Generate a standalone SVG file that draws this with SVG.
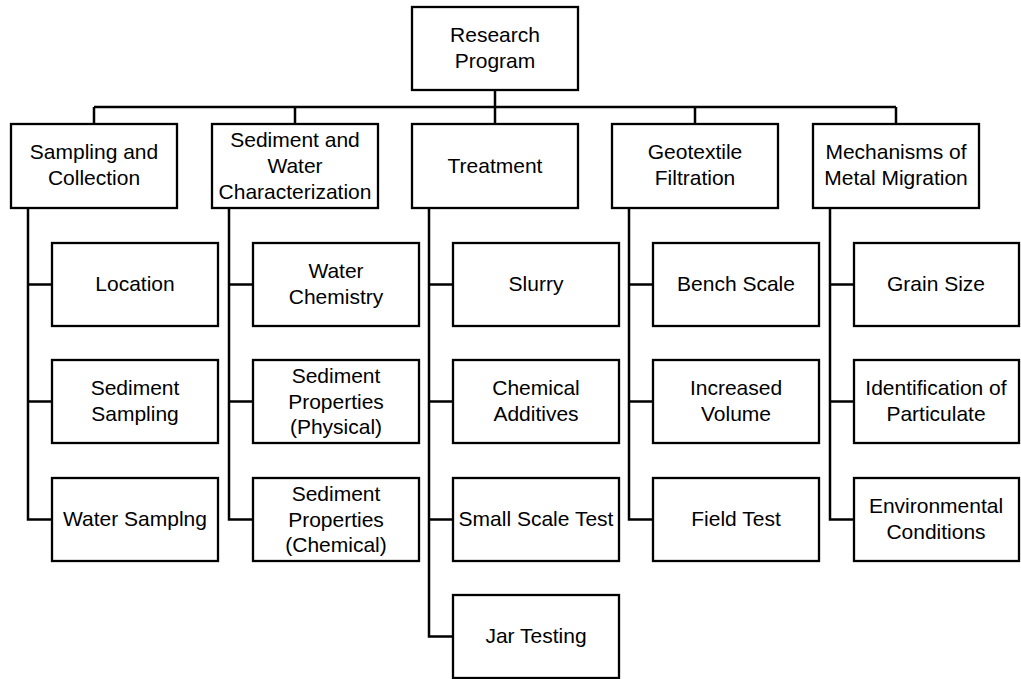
<svg xmlns="http://www.w3.org/2000/svg" width="1021" height="679" viewBox="0 0 1021 679">
<style>
.box{fill:#fff;stroke:#000;stroke-width:2.3}
.ln{fill:none;stroke:#000;stroke-width:2.5}
text{font-family:"Liberation Sans",Arial,sans-serif;font-size:21px;fill:#000;text-anchor:middle}
</style>
<rect width="1021" height="679" fill="#fff"/>
<g id="connectors">
<path class="ln" d="M495,90V123M94,107H896M94,107V123M295,107V123M695,107V123M896,107V123"/>
<path class="ln" d="M28,208V519.5H52M28,284.5H52M28,401.5H52"/>
<path class="ln" d="M229,208V519.5H253M229,284.5H253M229,401.5H253"/>
<path class="ln" d="M429,208V636.5H453M429,284.5H453M429,401.5H453M429,519.5H453"/>
<path class="ln" d="M629,208V519.5H653M629,284.5H653M629,401.5H653"/>
<path class="ln" d="M830,208V519.5H854M830,284.5H854M830,401.5H854"/>
</g>
<g id="n-root"><rect class="box" x="412" y="7" width="166" height="83"/><text x="495" y="42">Research</text><text x="495" y="68">Program</text></g>
<g id="n-sampling"><rect class="box" x="11" y="124" width="166" height="84"/><text x="94" y="159">Sampling and</text><text x="94" y="185">Collection</text></g>
<g id="n-sediment"><rect class="box" x="212" y="124" width="166" height="84"/><text x="295" y="147">Sediment and</text><text x="295" y="173">Water</text><text x="295" y="199">Characterization</text></g>
<g id="n-treatment"><rect class="box" x="412" y="124" width="166" height="84"/><text x="495" y="173">Treatment</text></g>
<g id="n-geotextile"><rect class="box" x="612" y="124" width="166" height="84"/><text x="695" y="159">Geotextile</text><text x="695" y="185">Filtration</text></g>
<g id="n-mechanisms"><rect class="box" x="813" y="124" width="166" height="84"/><text x="896" y="159">Mechanisms of</text><text x="896" y="185">Metal Migration</text></g>

<g id="n-location"><rect class="box" x="52" y="243" width="166" height="83"/><text x="135" y="291">Location</text></g>
<g id="n-sedsampling"><rect class="box" x="52" y="360" width="166" height="83"/><text x="135" y="395">Sediment</text><text x="135" y="421">Sampling</text></g>
<g id="n-watersampling"><rect class="box" x="52" y="478" width="166" height="83"/><text x="135" y="526">Water Samplng</text></g>

<g id="n-waterchem"><rect class="box" x="253" y="243" width="166" height="83"/><text x="336" y="278">Water</text><text x="336" y="304">Chemistry</text></g>
<g id="n-sedphys"><rect class="box" x="253" y="360" width="166" height="83"/><text x="336" y="383">Sediment</text><text x="336" y="409">Properties</text><text x="336" y="434">(Physical)</text></g>
<g id="n-sedchem"><rect class="box" x="253" y="478" width="166" height="83"/><text x="336" y="501">Sediment</text><text x="336" y="527">Properties</text><text x="336" y="552">(Chemical)</text></g>

<g id="n-slurry"><rect class="box" x="453" y="243" width="166" height="83"/><text x="536" y="291">Slurry</text></g>
<g id="n-chemadd"><rect class="box" x="453" y="360" width="166" height="83"/><text x="536" y="395">Chemical</text><text x="536" y="421">Additives</text></g>
<g id="n-smallscale"><rect class="box" x="453" y="478" width="166" height="83"/><text x="536" y="526">Small Scale Test</text></g>
<g id="n-jar"><rect class="box" x="453" y="595" width="166" height="83"/><text x="536" y="643">Jar Testing</text></g>

<g id="n-bench"><rect class="box" x="653" y="243" width="166" height="83"/><text x="736" y="291">Bench Scale</text></g>
<g id="n-volume"><rect class="box" x="653" y="360" width="166" height="83"/><text x="736" y="395">Increased</text><text x="736" y="421">Volume</text></g>
<g id="n-field"><rect class="box" x="653" y="478" width="166" height="83"/><text x="736" y="526">Field Test</text></g>

<g id="n-grain"><rect class="box" x="854" y="243" width="165" height="83"/><text x="936" y="291">Grain Size</text></g>
<g id="n-ident"><rect class="box" x="854" y="360" width="165" height="83"/><text x="936" y="395">Identification of</text><text x="936" y="421">Particulate</text></g>
<g id="n-env"><rect class="box" x="854" y="478" width="165" height="83"/><text x="936" y="513">Environmental</text><text x="936" y="539">Conditions</text></g>
</svg>
